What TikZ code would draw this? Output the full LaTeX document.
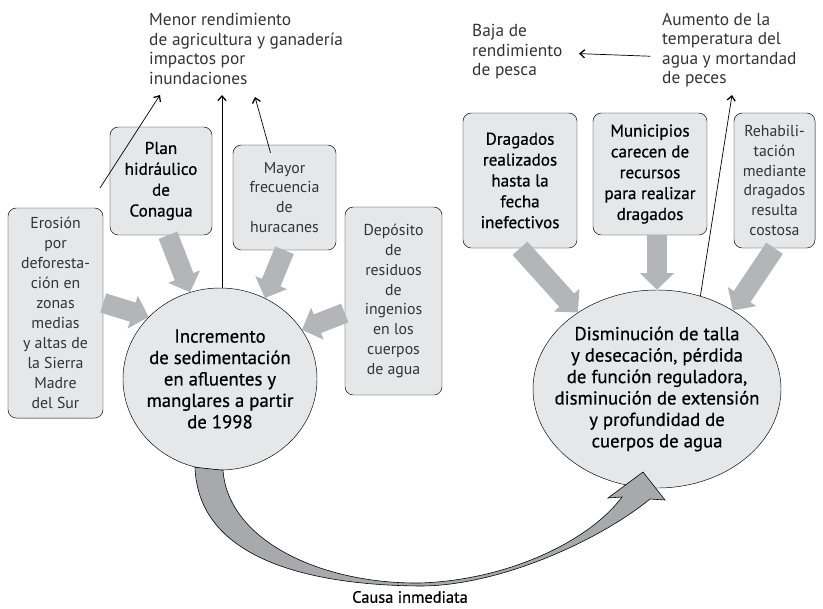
\documentclass[tikz,border=0pt]{standalone}
\usepackage{fontspec}
\setmainfont{PT Sans}
\newfontfamily\mediumfont[FakeBold=0.6]{PT Sans}
\usepackage{tikz}
\usetikzlibrary{shapes.geometric, arrows, arrows.meta, calc}

\definecolor{boxgray}{HTML}{E6E7E8}
\definecolor{pushgray}{HTML}{B3B5B8}
\definecolor{bandgray}{HTML}{A7A9AC}

\begin{document}
\begin{tikzpicture}[x=0.03cm, y=-0.03cm]
    \tikzstyle{cause} = [rectangle, rounded corners=0.25cm, draw=black, fill=boxgray, align=center, inner sep=0pt, text=black!80, font=\fontsize{13.5}{17}\selectfont]
    \tikzstyle{strongcause} = [cause, text=black, font=\mediumfont\fontsize{14.6}{17.8}\selectfont]
    \tikzstyle{problem} = [ellipse, draw=black, fill=boxgray, align=center, inner sep=-25pt, font=\mediumfont\fontsize{16}{18.3}\selectfont]
    \tikzstyle{effect} = [align=left, inner sep=0pt, anchor=west, text=black!80, font=\fontsize{14.8}{16.6}\selectfont]
    \tikzstyle{push} = [draw=pushgray, line width=0.6cm, -{Triangle[width=1.0cm, length=0.5cm]}]
    \tikzstyle{arrow} = [line width=0.6pt, -{Straight Barb[length=4pt, width=7pt, line width=1.1pt]}]

    \useasboundingbox (0,0) rectangle (823,608);

    % causas del lado izquierdo
    \node (erosion) [cause, minimum width=2.85cm, minimum height=6.3cm] at (55.5,313)
        {Erosión\\por\\deforesta-\\ción en\\zonas\\medias\\y altas de\\la Sierra\\Madre\\del Sur};
    \node (plan) [strongcause, minimum width=3.06cm, minimum height=3.24cm] at (161,181)
        {Plan\\hidráulico\\de\\Conagua};
    \node (mayor) [cause, minimum width=3.09cm, minimum height=3.15cm] at (284.5,197.5)
        {Mayor\\frecuencia\\de\\huracanes};
    \node (deposito) [cause, minimum width=2.91cm, minimum height=5.64cm] at (393.5,301)
        {Depósito\\de\\residuos\\de\\ingenios\\en los\\cuerpos\\de agua};
    \node (inc) [problem, minimum width=5.82cm, minimum height=5.46cm] at (220,379)
        {Incremento\\de sedimentación\\en afluentes y\\manglares a partir\\de 1998};

    % causas del lado derecho
    \node (dragados) [strongcause, minimum width=3.42cm, minimum height=4.05cm] at (520,180.5)
        {Dragados\\realizados\\hasta la\\fecha\\inefectivos};
    \node (municipios) [strongcause, minimum width=3.42cm, minimum height=3.66cm] at (650,174)
        {Municipios\\carecen de\\recursos\\para realizar\\dragados};
    \node (rehab) [cause, minimum width=2.43cm, minimum height=4.05cm] at (774.5,180.5)
        {Rehabili-\\tación\\mediante\\dragados\\resulta\\costosa};
    \node (dis) [problem, minimum width=7.44cm, minimum height=5.94cm] at (657,389)
        {Disminución de talla\\y desecación, pérdida\\de función reguladora,\\disminución de extensión\\y profundidad de\\cuerpos de agua};

    % efectos
    \node (menor) [effect] at (149,49)
        {Menor rendimiento\\de agricultura y ganadería\\impactos por\\inundaciones};
    \node (baja) [effect] at (472,52)
        {Baja de\\rendimiento\\de pesca};
    \node (aumento) [effect] at (662,50)
        {Aumento de la\\temperatura del\\agua y mortandad\\de peces};

    \coordinate (erohint) at (100,188);
    \coordinate (menor1) at (160,95);
    \coordinate (menor3) at (255,97);
    \coordinate (aumento1) at (732,95);

    % flechas grises
    \draw [push] ($(erosion.east)+(0,-10)$) -- (inc.139);
    \draw [push] ($(plan.south)+(7,0)$) -- (inc.109);
    \draw [push] (mayor.south) -- (inc.61);
    \draw [push] ($(deposito.west)+(0,12)$) -- (inc.31);
    \draw [push] (dragados.south) -- (dis.136);
    \draw [push] (municipios.south -| dis.north) -- (dis.north);
    \draw [push] (rehab.south) -- (dis.46);

    % flechas de efectos
    \draw [arrow] (erohint) -- (menor1);
    \draw [arrow] ($(inc.north)+(2,0)$) -- ($(inc.north |- menor1)+(2,0)$);
    \draw [arrow] ($(mayor.north)+(-14,8)$) -- (menor3);
    \draw [arrow] (dis.65) -- (aumento1);
    \draw [arrow, shorten <=10pt, shorten >=14pt] ([yshift=-0.2cm]aumento.west) -- ([yshift=-0.03cm]baja.east);

    % causa inmediata
    \filldraw [fill=bandgray, draw=black, line width=0.5pt]
        ($(inc.south)+(-25,-3)$) .. controls (198,555) and (300,585) .. (420,586)
        .. controls (500,586) and (600,540) .. (650,499)
        -- (665,500) -- (643,472) -- (608,498) -- (622,497)
        .. controls (590,540) and (510,580) .. (420,583)
        .. controls (320,584) and (228,540) .. ($(inc.south)+(3,0)$) -- cycle;
    \node (causa) [font=\mediumfont\fontsize{14}{17}\selectfont] at (410,597) {Causa inmediata};
\end{tikzpicture}
\end{document}
